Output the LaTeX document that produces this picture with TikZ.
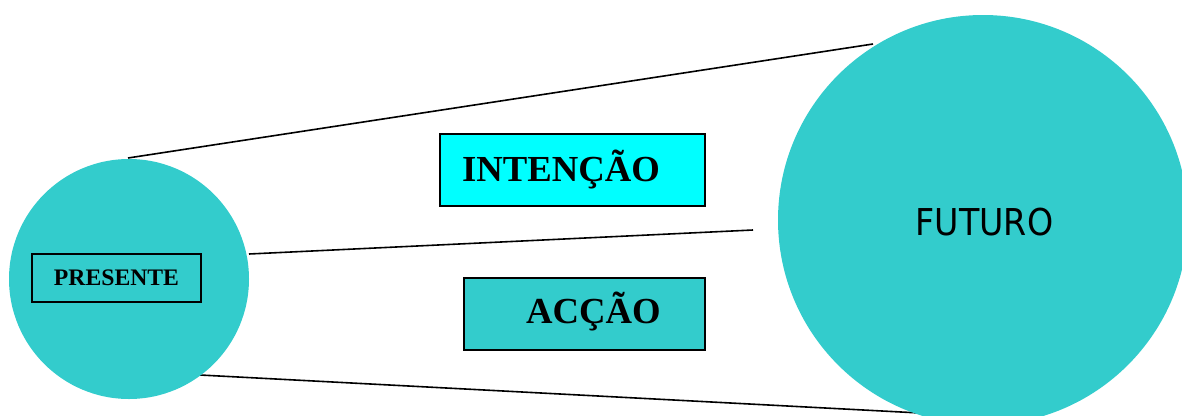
\documentclass[tikz,border=0pt]{standalone}
\usepackage{fontspec}
\setmainfont{Liberation Serif}
\newfontfamily\futfont{DejaVu Sans Condensed}
\definecolor{tealfill}{RGB}{51,204,204}
\definecolor{cyanfill}{RGB}{0,255,255}
\begin{document}
\begin{tikzpicture}[x=1pt,y=-1pt,
  link/.style={draw=black, line width=1.6pt},
  disc/.style={circle, fill=tealfill, draw=none, inner sep=0pt},
  tagbox/.style={rectangle, draw=black, line width=1.4pt, inner sep=0pt},
  boldlabel/.style={font=\bfseries\fontsize{36.7}{40}\selectfont, inner sep=0pt}]
\useasboundingbox (0,0) rectangle (1182,415);
\clip (0,0) rectangle (1182,415);

% connecting lines between the present and the future
\coordinate (a1) at (128,158);
\coordinate (b1) at (873,44);
\coordinate (a2) at (249,254);
\coordinate (b2) at (753,230);
\coordinate (a3) at (200,375);
\coordinate (b3) at (920,413);
\draw[link] (a1) -- (b1);
\draw[link] (a2) -- (b2);
\draw[link] (a3) -- (b3);

% the two circles
\node[disc, minimum size=240pt] (pres) at (129,279) {};
\node[disc, minimum size=410pt] (fut) at (983,220) {};
\node[anchor=base, inner sep=0pt, font=\futfont\fontsize{37}{40}\selectfont] (futtxt) at (984.5,235) {FUTURO};

% PRESENTE label box
\node[tagbox, line width=1.8pt, fill=tealfill, minimum width=169pt, minimum height=48pt,
      font=\bfseries\fontsize{23.7}{26}\selectfont] (prestxt) at (116.5,278) {PRESENTE};

% INTENÇÃO and ACÇÃO boxes
\node[tagbox, fill=cyanfill, minimum width=265pt, minimum height=72pt] (int) at (572.5,170) {};
\node[boldlabel, anchor=base west] (inttxt) at (462,181) {INTENÇÃO};
\node[tagbox, fill=tealfill, minimum width=241pt, minimum height=72pt] (acc) at (584.5,314) {};
\node[boldlabel, anchor=base west] (acctxt) at (526,323) {ACÇÃO};
\end{tikzpicture}
\end{document}
